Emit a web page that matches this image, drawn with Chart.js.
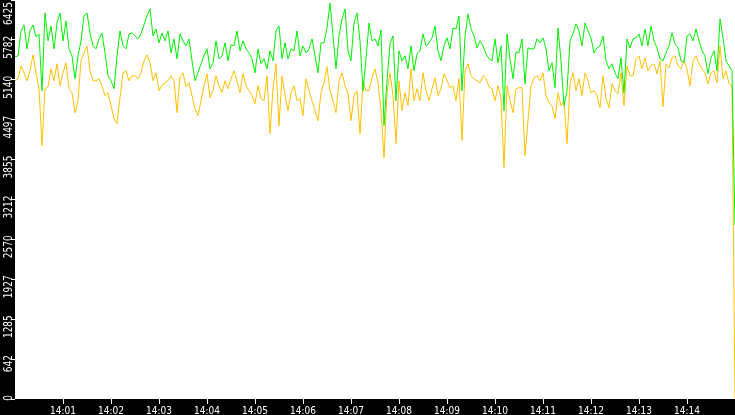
<!DOCTYPE html>
<html><head><meta charset="utf-8">
<script src="https://cdn.jsdelivr.net/npm/chart.js@4"></script>
<style>html,body{margin:0;padding:0;background:#000;overflow:hidden}canvas{display:block}</style>
</head><body>
<canvas id="c" width="735" height="415"></canvas>
<script>
// Samples every 3.75 s from 14:00:00 to 14:15:00
const times = [];
for (let i = 0; i <= 240; i++) {
  const s = i * 3.75, m = Math.floor(s / 60), sec = s - m * 60;
  times.push('14:' + String(m).padStart(2, '0') + ':' + sec.toFixed(2).padStart(5, '0'));
}
const xTickLabels = ['14:01','14:02','14:03','14:04','14:05','14:06','14:07','14:08','14:09','14:10','14:11','14:12','14:13','14:14'];
const yTickLabels = ['0','642','1285','1927','2570','3212','3855','4497','5140','5782','6425'];

const greenSeries = [
5510,5526,5927,6024,5638,5927,6024,5831,5879,4964,
6217,5767,6008,5638,6056,6217,5767,6088,5638,5526,
5157,5526,5767,6168,6217,5895,5687,5638,5799,5895,
5574,5205,5124,4996,5526,5927,5687,5638,5879,5895,
5847,5799,5879,6024,6168,6281,5847,5959,5735,5895,
5767,5927,5574,5799,5478,5879,5767,5687,5799,5446,
5124,5253,5398,5526,5638,5317,5414,5767,5478,5526,
5735,5446,5703,5687,5927,5606,5767,5638,
5574,5478,5253,5638,5398,5478,5317,5606,5446,5927,
6008,5478,5735,5478,5638,5606,5927,5526,5687,5574,
5638,5799,5526,5253,5735,5735,5975,6377,5847,5317,
5847,6120,6281,5606,5446,6056,6217,5767,4964,
5478,6056,5767,5799,5687,5943,4402,5124,5719,5847,
4803,5606,5446,5526,5317,5687,5285,5558,5606,5879,
5687,5735,5815,6008,5606,5446,5687,5815,5638,5975,
5959,6168,4964,5831,6201,5959,5847,5654,5767,5687,
5558,5478,5446,5799,5414,5687,4643,5879,5478,5157,
5590,
5574,5799,5076,5654,5638,5638,5799,5735,5815,5638,
5285,5414,5012,5975,5446,4723,4964,5767,5879,6040,
5927,5687,6056,5927,5815,5574,5654,5687,5847,5446,
5317,5398,5253,5157,5494,4932,
5799,5654,5799,5815,5879,5687,5959,5687,6008,5767,
5654,5478,5446,5574,5687,5895,5719,5654,5446,5414,
5847,5879,5767,5959,5767,5606,5526,5237,5494,5606,
5285,6120,5815,5446,5365,5285,
2800];

const orangeSeries = [
5124,5157,5365,5253,5124,5285,5542,5253,4996,4081,
4996,5028,5317,5124,5398,5044,5253,5414,4996,4932,
4611,4803,5446,5574,5687,5285,5124,5124,5157,5044,
4884,4932,4723,4514,4434,4852,5253,5285,5124,5205,
5205,5157,5253,5446,5542,5414,5124,5253,4964,5060,
5092,5124,5205,5124,4611,5189,5253,5028,5092,4884,
4675,4563,4803,5044,5237,4852,4964,5205,5044,4932,
5124,4996,5157,5285,5124,4932,5237,5044,
4964,4884,4755,5044,4836,4803,5205,4274,4996,5398,
4402,5205,4884,4643,4932,5044,4803,4836,4563,5157,
4964,4803,4643,4482,4932,5092,5349,4964,4803,4611,
5124,5253,5044,4916,4482,4884,4964,4274,5124,
4964,4964,5173,5317,5092,4643,3888,4932,5253,4884,
4113,5124,4643,4932,4723,5317,4803,4996,4803,5253,
4964,4803,4996,5173,4884,4996,5237,5124,5012,5044,
4803,5157,4161,5285,5398,5205,5157,5124,5092,5205,
5157,5028,4996,4803,5044,4852,3727,5044,4803,4611,
4996,
5012,5012,3920,4482,5044,5173,5205,5124,5253,4884,
4771,4723,4514,4932,4723,4803,4113,5076,5253,4964,
5157,4884,5253,5124,4932,4964,4884,4691,5205,4836,
4691,5076,4964,4916,5253,4723,
5365,5205,5205,5478,5526,5317,5494,5285,5365,5398,
5237,5446,4707,5398,5333,5494,5526,5365,5317,5446,
5317,5044,5446,5526,5398,5317,5253,5076,5253,5285,
5092,5687,5157,5285,5076,5044,
0];

const FONT = '"DejaVu Sans Condensed", "DejaVu Sans", sans-serif';

const bgPlugin = {
  id: 'bg',
  beforeDraw(chart) {
    const { ctx, chartArea: a } = chart;
    ctx.save();
    ctx.fillStyle = '#000';
    ctx.fillRect(0, 0, chart.width, chart.height);
    ctx.fillStyle = '#fff';
    ctx.fillRect(a.left, a.top, a.right - a.left, a.bottom - a.top);
    ctx.restore();
  }
};

const yLabelPlugin = {
  id: 'ylabels',
  afterDraw(chart) {
    const ctx = chart.ctx, s = chart.scales.y;
    ctx.save();
    ctx.font = '10px ' + FONT;
    ctx.fillStyle = '#fff';
    ctx.textAlign = 'right';
    ctx.textBaseline = 'alphabetic';
    s.ticks.forEach((t, i) => {
      const y = s.getPixelForValue(t.value);
      let end = y - 4;
      if (end < 2) end = 2;
      ctx.save();
      ctx.translate(12, end);
      ctx.rotate(-Math.PI / 2);
      ctx.scale(1, 1.3);
      ctx.fillText(yTickLabels[i], 0, 0);
      ctx.restore();
    });
    ctx.restore();
  }
};

new Chart(document.getElementById('c'), {
  type: 'line',
  data: {
    labels: times,
    datasets: [
      { label: 'A', data: greenSeries, borderColor: '#00f000', borderWidth: 1, pointRadius: 0, tension: 0, fill: false },
      { label: 'B', data: orangeSeries, borderColor: '#ffc000', borderWidth: 1, pointRadius: 0, tension: 0, fill: false }
    ]
  },
  options: {
    responsive: false,
    animation: false,
    devicePixelRatio: 1,
    layout: { padding: 0 },
    plugins: { legend: { display: false }, tooltip: { enabled: false } },
    scales: {
      x: {
        type: 'category',
        offset: false,
        border: { display: false },
        grid: { display: true, drawOnChartArea: false, drawTicks: true, tickLength: 5, tickColor: '#fff', tickWidth: 1 },
        ticks: {
          color: '#fff', font: { family: FONT, size: 10 }, autoSkip: false, maxRotation: 0, minRotation: 0, padding: 1,
          callback: (v) => (v % 16 === 0 ? xTickLabels[v / 16 - 1] : '')
        },
        afterBuildTicks: (scale) => { scale.ticks = scale.ticks.filter(t => t.value % 16 === 0 && t.value > 0 && t.value < 240); },
        afterFit: (scale) => { scale.height = 16; }
      },
      y: {
        min: 0, max: 6425,
        border: { display: false },
        grid: { display: true, drawOnChartArea: false, drawTicks: true, tickLength: 4, tickColor: '#fff', tickWidth: 1 },
        ticks: { display: false, count: 11 },
        afterFit: (scale) => { scale.width = 15; }
      }
    }
  },
  plugins: [bgPlugin, yLabelPlugin]
});
</script>
</body></html>
